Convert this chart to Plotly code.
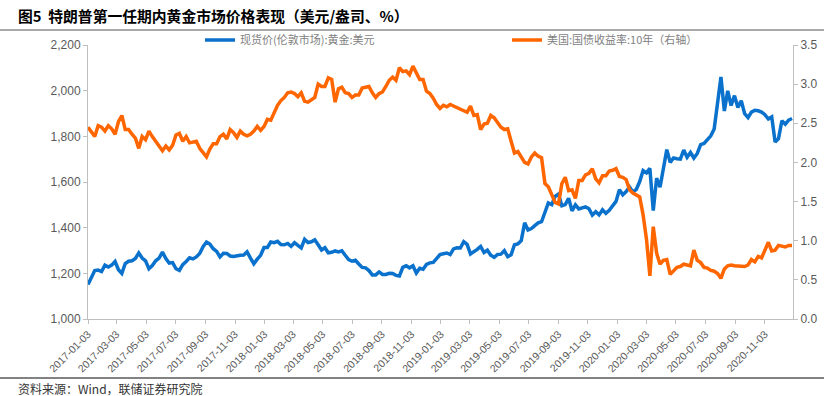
import pandas as pd
import plotly.graph_objects as go

# weekly observations, first week 2017-01-03
start_date = "2017-01-03"
n_weeks = 209

gold = [
    # 2017
    1151, 1185, 1212, 1214, 1208, 1236, 1228, 1236, 1252, 1216, 1200, 1243, 1253,
    1255, 1265, 1289, 1267, 1255, 1220, 1234, 1255, 1267, 1293, 1265, 1245, 1247,
    1220, 1213, 1238, 1252, 1268, 1263, 1272, 1287, 1317, 1337, 1328, 1308, 1296,
    1272, 1288, 1287, 1276, 1274, 1278, 1279, 1280, 1294, 1267, 1242, 1262, 1279,
    # 2018
    1313, 1313, 1337, 1334, 1340, 1326, 1325, 1331, 1318, 1334, 1322, 1311, 1349,
    1335, 1338, 1347, 1325, 1302, 1312, 1290, 1292, 1298, 1294, 1299, 1279, 1260,
    1253, 1257, 1241, 1226, 1224, 1212, 1193, 1193, 1206, 1195, 1195, 1200, 1199,
    1191, 1188, 1226, 1233, 1224, 1233, 1201, 1222, 1218, 1239, 1246, 1248, 1267,
    # 2019
    1282, 1286, 1289, 1282, 1307, 1312, 1311, 1339, 1327, 1285, 1293, 1305, 1318,
    1291, 1301, 1279, 1270, 1283, 1284, 1299, 1273, 1281, 1325, 1329, 1343, 1421,
    1390, 1396, 1409, 1421, 1426, 1468, 1508, 1501, 1537, 1547, 1496, 1501, 1529,
    1474, 1500, 1482, 1487, 1491, 1483, 1455, 1470, 1456, 1478, 1463, 1476, 1498, 1515,
    # 2020
    1566, 1544, 1558, 1578, 1556, 1568, 1602, 1650, 1640, 1660, 1475, 1617, 1577,
    1657, 1742, 1686, 1705, 1702, 1700, 1740, 1708, 1729, 1705, 1725, 1764, 1769,
    1783, 1802, 1832, 1934, 2060, 1911, 1999, 1935, 1978, 1926, 1956, 1899, 1882,
    1906, 1914, 1912, 1906, 1895, 1876, 1885, 1775, 1790, 1868, 1853, 1871, 1878,
]

ust10y = [
    # 2017
    2.45, 2.38, 2.33, 2.47, 2.45, 2.40, 2.47, 2.43, 2.36, 2.52, 2.60, 2.42, 2.42,
    2.36, 2.31, 2.18, 2.33, 2.29, 2.40, 2.33, 2.26, 2.21, 2.15, 2.21, 2.16, 2.22,
    2.35, 2.37, 2.27, 2.33, 2.25, 2.26, 2.27, 2.18, 2.13, 2.07, 2.17, 2.24, 2.24,
    2.33, 2.36, 2.30, 2.42, 2.38, 2.32, 2.40, 2.36, 2.34, 2.36, 2.40, 2.46, 2.41,
    # 2018
    2.46, 2.55, 2.54, 2.63, 2.73, 2.79, 2.83, 2.89, 2.90, 2.88, 2.84, 2.89, 2.78,
    2.77, 2.80, 2.83, 3.00, 2.97, 2.97, 3.08, 3.06, 2.77, 2.94, 2.96, 2.89, 2.88,
    2.83, 2.86, 2.86, 2.95, 2.96, 2.97, 2.89, 2.83, 2.88, 2.90, 2.97, 3.05, 3.09,
    3.05, 3.21, 3.16, 3.17, 3.12, 3.23, 3.14, 3.06, 3.06, 2.91, 2.88, 2.82, 2.74,
    # 2019
    2.69, 2.73, 2.71, 2.74, 2.72, 2.70, 2.68, 2.65, 2.64, 2.72, 2.60, 2.61, 2.42,
    2.49, 2.50, 2.60, 2.57, 2.51, 2.45, 2.42, 2.43, 2.27, 2.12, 2.14, 2.06, 2.00,
    1.98, 2.07, 2.12, 2.08, 2.06, 1.73, 1.69, 1.60, 1.49, 1.47, 1.73, 1.81, 1.64,
    1.65, 1.54, 1.77, 1.77, 1.84, 1.86, 1.92, 1.79, 1.74, 1.83, 1.83, 1.89, 1.90, 1.92,
    # 2020
    1.82, 1.81, 1.78, 1.65, 1.61, 1.59, 1.56, 1.33, 1.02, 0.55, 1.18, 0.84, 0.70,
    0.75, 0.76, 0.57, 0.62, 0.66, 0.67, 0.70, 0.69, 0.68, 0.88, 0.75, 0.72, 0.66,
    0.65, 0.62, 0.61, 0.58, 0.52, 0.64, 0.68, 0.69, 0.68, 0.68, 0.68, 0.67, 0.69,
    0.76, 0.73, 0.80, 0.78, 0.89, 0.98, 0.87, 0.88, 0.94, 0.93, 0.92, 0.94, 0.94,
]

tick_dates = [
    "2017-01-03", "2017-03-03", "2017-05-03", "2017-07-03", "2017-09-03", "2017-11-03",
    "2018-01-03", "2018-03-03", "2018-05-03", "2018-07-03", "2018-09-03", "2018-11-03",
    "2019-01-03", "2019-03-03", "2019-05-03", "2019-07-03", "2019-09-03", "2019-11-03",
    "2020-01-03", "2020-03-03", "2020-05-03", "2020-07-03", "2020-09-03", "2020-11-03",
]

dates = pd.date_range(start_date, periods=n_weeks, freq="7D")

name_gold = "现货价(伦敦市场):黄金:美元"
name_ust = "美国:国债收益率:10年（右轴）"

CJK = "Noto Sans CJK SC"
NUM = "Liberation Sans, Arial"
axis_grey = "#BFBFBF"
label_grey = "#595959"

fig = go.Figure()
fig.add_trace(go.Scatter(x=dates, y=gold, name=name_gold, mode="lines",
                         line=dict(color="#0A72CC", width=3.5)))
fig.add_trace(go.Scatter(x=dates, y=ust10y, name=name_ust, mode="lines", yaxis="y2",
                         line=dict(color="#FF6600", width=3.5)))

W, H = 824, 396
L, R, T, B = 88, 31, 45, 77
pw, ph = W - L - R, H - T - B

def px_x(x):
    return (x - L) / pw

def px_y(y):
    return (H - B - y) / ph

fig.update_layout(
    width=W, height=H,
    margin=dict(l=L, r=R, t=T, b=B, autoexpand=False),
    paper_bgcolor="white", plot_bgcolor="white",
    font=dict(family=NUM, size=12, color=label_grey),
    showlegend=True,
    legend=dict(orientation="h", x=px_x(200), y=px_y(40), xanchor="left", yanchor="middle",
                entrywidth=262, entrywidthmode="pixels",
                font=dict(family=CJK, size=11, color="#7F7F7F"),
                bgcolor="rgba(0,0,0,0)", itemwidth=30),
    xaxis=dict(type="date", range=["2017-01-03", "2020-12-31"],
               tickvals=tick_dates, ticktext=tick_dates, tickangle=-45,
               tickfont=dict(family=NUM, size=10.5, color=label_grey),
               showgrid=False, zeroline=False, automargin=False,
               showline=True, linecolor=axis_grey, linewidth=1,
               ticks="outside", ticklen=4, tickcolor=axis_grey),
    yaxis=dict(range=[1000, 2200], tickvals=[1000, 1200, 1400, 1600, 1800, 2000, 2200],
               tickformat=",d", showgrid=False, zeroline=False, automargin=False,
               showline=True, linecolor=axis_grey, linewidth=1,
               ticks="outside", ticklen=4, tickcolor=axis_grey,
               tickfont=dict(family=NUM, size=12, color=label_grey)),
    yaxis2=dict(range=[0, 3.5], tickvals=[0, 0.5, 1, 1.5, 2, 2.5, 3, 3.5],
                tickformat=".1f", overlaying="y", side="right",
                showgrid=False, zeroline=False, automargin=False,
                showline=True, linecolor=axis_grey, linewidth=1,
                ticks="outside", ticklen=4, tickcolor=axis_grey,
                tickfont=dict(family=NUM, size=12, color=label_grey)),
    shapes=[
        dict(type="line", xref="paper", yref="paper", x0=px_x(0), x1=px_x(W),
             y0=px_y(30), y1=px_y(30), line=dict(color="#8C8C8C", width=1.5)),
        dict(type="line", xref="paper", yref="paper", x0=px_x(0), x1=px_x(W),
             y0=px_y(378), y1=px_y(378), line=dict(color="#595959", width=1.5)),
    ],
    annotations=[
        dict(text="<b>图5  特朗普第一任期内黄金市场价格表现（美元/盎司、%）</b>",
             xref="paper", yref="paper", x=px_x(16), y=px_y(15),
             xanchor="left", yanchor="middle", showarrow=False,
             font=dict(family=CJK, size=14.8, color="#000000")),
        dict(text="资料来源：Wind，联储证券研究院",
             xref="paper", yref="paper", x=px_x(16), y=px_y(388),
             xanchor="left", yanchor="middle", showarrow=False,
             font=dict(family=CJK, size=12, color="#333333")),
    ],
)

fig.write_html("out.html",
               config={"displayModeBar": False},
               post_script="document.body.style.margin='0';document.body.style.padding='0';")
